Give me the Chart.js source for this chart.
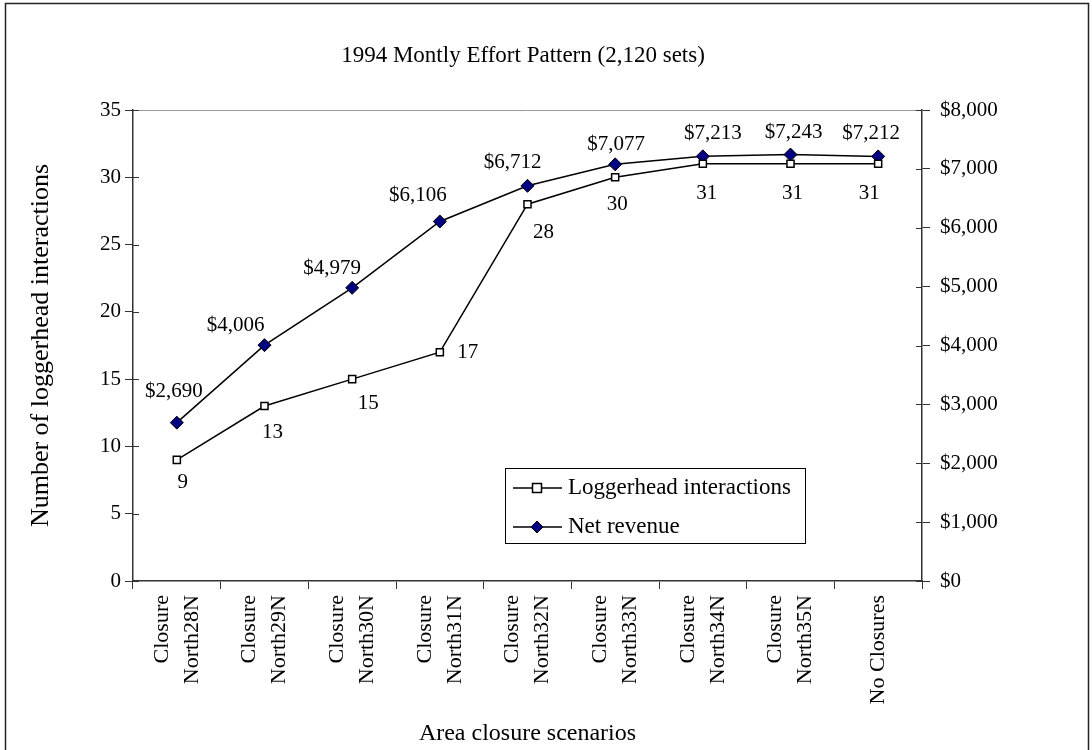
<!DOCTYPE html>
<html>
<head>
<meta charset="utf-8">
<script src="https://cdn.jsdelivr.net/npm/chart.js@4.4.0/dist/chart.umd.min.js"></script>
<style>
  html, body { margin: 0; padding: 0; background: #fff; }
  #wrap { width: 1092px; height: 750px; position: relative; }
</style>
</head>
<body>
<div id="wrap"><canvas id="effortChart"></canvas></div>
<script>
// chart data
const scenarios = [
  ['Closure', 'North28N'], ['Closure', 'North29N'], ['Closure', 'North30N'],
  ['Closure', 'North31N'], ['Closure', 'North32N'], ['Closure', 'North33N'],
  ['Closure', 'North34N'], ['Closure', 'North35N'], ['', 'No Closures']
];
const loggerheadInteractions = [9, 13, 15, 17, 28, 30, 31, 31, 31];
const netRevenue = [2690, 4006, 4979, 6106, 6712, 7077, 7213, 7243, 7212];
const seriesNames = ['Loggerhead interactions', 'Net revenue'];

const FONT = 'Liberation Serif';
const money = v => '$' + Number(v).toLocaleString('en-US');

// where each value label sits relative to its point (px)
const interactionLabelShift = [[6, 23], [8, 26], [16, 24], [28, 0], [16, 28], [2, 27], [4, 30], [2, 30], [-9, 30]];
const revenueLabelShift = [[-3, -31], [-29, -20], [-20, -19], [-22, -26], [-15, -23], [1, -20], [10, -23], [3, -22], [-7, -23]];

const decorations = {
  id: 'decorations',
  afterDraw(chart) {
    const ctx = chart.ctx;
    const area = chart.chartArea;
    ctx.save();

    // outer frame
    ctx.strokeStyle = '#222';
    ctx.lineWidth = 1.5;
    ctx.strokeRect(5.5, 3.5, 1083, 760);

    // light top edge of plot area
    ctx.strokeStyle = '#999';
    ctx.lineWidth = 1;
    ctx.beginPath();
    ctx.moveTo(area.left, area.top + 0.5);
    ctx.lineTo(area.right, area.top + 0.5);
    ctx.stroke();

    // short inner halves of the value-axis ticks
    ctx.strokeStyle = '#333';
    ctx.lineWidth = 1;
    ['y', 'y1'].forEach(id => {
      const sc = chart.scales[id];
      const x0 = id === 'y' ? area.left : area.right;
      const dir = id === 'y' ? 1 : -1;
      sc.ticks.forEach(t => {
        const py = Math.round(sc.getPixelForValue(t.value)) + 0.5;
        ctx.beginPath();
        ctx.moveTo(x0, py);
        ctx.lineTo(x0 + dir * 6, py);
        ctx.stroke();
      });
    });

    // value labels
    ctx.fillStyle = '#000';
    ctx.font = '21px "' + FONT + '"';
    ctx.textAlign = 'center';
    ctx.textBaseline = 'middle';
    chart.getDatasetMeta(0).data.forEach((pt, i) => {
      const s = interactionLabelShift[i];
      ctx.fillText(String(loggerheadInteractions[i]), pt.x + s[0], pt.y + s[1]);
    });
    chart.getDatasetMeta(1).data.forEach((pt, i) => {
      const s = revenueLabelShift[i];
      ctx.fillText(money(netRevenue[i]), pt.x + s[0], pt.y + s[1]);
    });

    // legend box
    const bx = 505, by = 468, bw = 300, bh = 75;
    ctx.fillStyle = '#fff';
    ctx.fillRect(bx, by, bw, bh);
    ctx.strokeStyle = '#000';
    ctx.lineWidth = 1;
    ctx.strokeRect(bx + 0.5, by + 0.5, bw, bh);
    ctx.font = '23px "' + FONT + '"';
    const rows = [by + 20, by + 59];
    rows.forEach((y, i) => {
      ctx.strokeStyle = '#000';
      ctx.lineWidth = 1.5;
      ctx.beginPath();
      ctx.moveTo(bx + 8, y);
      ctx.lineTo(bx + 57, y);
      ctx.stroke();
      const cx = bx + 32;
      if (i === 0) {
        ctx.fillStyle = '#fff';
        ctx.fillRect(cx - 4.5, y - 4.5, 9, 9);
        ctx.strokeRect(cx - 4.5, y - 4.5, 9, 9);
      } else {
        ctx.fillStyle = '#000080';
        ctx.beginPath();
        ctx.moveTo(cx, y - 6);
        ctx.lineTo(cx + 6, y);
        ctx.lineTo(cx, y + 6);
        ctx.lineTo(cx - 6, y);
        ctx.closePath();
        ctx.fill();
        ctx.lineWidth = 1;
        ctx.stroke();
      }
      ctx.fillStyle = '#000';
      ctx.textAlign = 'left';
      ctx.fillText(seriesNames[i], bx + 63, y);
    });
    ctx.restore();
  }
};

new Chart(document.getElementById('effortChart'), {
  type: 'line',
  data: {
    labels: scenarios,
    datasets: [
      {
        label: seriesNames[0],
        data: loggerheadInteractions,
        yAxisID: 'y',
        borderColor: '#000',
        borderWidth: 1.5,
        pointStyle: 'rect',
        pointRadius: 5,
        pointBackgroundColor: '#fff',
        pointBorderColor: '#000',
        pointBorderWidth: 1.5,
        tension: 0
      },
      {
        label: seriesNames[1],
        data: netRevenue,
        yAxisID: 'y1',
        borderColor: '#000',
        borderWidth: 1.5,
        pointStyle: 'rectRot',
        pointRadius: 6.5,
        pointBackgroundColor: '#000080',
        pointBorderColor: '#000',
        pointBorderWidth: 1,
        tension: 0
      }
    ]
  },
  options: {
    responsive: true,
    maintainAspectRatio: false,
    animation: false,
    layout: { padding: { left: 6, right: 52, top: 0, bottom: 0 } },
    plugins: {
      legend: { display: false },
      tooltip: { enabled: false },
      title: {
        display: true,
        text: '1994 Montly Effort Pattern (2,120 sets)',
        color: '#000',
        font: { family: FONT, size: 23, weight: 'normal', lineHeight: 1.2 },
        padding: { top: 42, bottom: 40.4 }
      }
    },
    scales: {
      x: {
        offset: true,
        grid: { offset: true, drawOnChartArea: false, tickLength: 8, color: '#333' },
        border: { color: '#333', width: 1.5 },
        ticks: {
          color: '#000',
          maxRotation: 90, minRotation: 90,
          padding: 6,
          labelOffset: -15,
          // the single-line label gets a tight line height so it sits on its tick
          font: ctx => ({ family: FONT, size: 22, lineHeight: scenarios[ctx.index] && scenarios[ctx.index][0] === '' ? 15 / 22 : 30 / 22 })
        },
        title: {
          display: true,
          text: 'Area closure scenarios',
          color: '#000',
          font: { family: FONT, size: 24 },
          padding: { top: 2, bottom: 2 }
        },
        afterFit(scale) { scale.height = 169; }
      },
      y: {
        position: 'left',
        min: 0, max: 35,
        ticks: { stepSize: 5, color: '#000', padding: 4, font: { family: FONT, size: 21 } },
        grid: { drawOnChartArea: false, tickLength: 8, color: '#333' },
        border: { color: '#333', width: 1.5 },
        title: {
          display: true,
          text: 'Number of loggerhead interactions',
          color: '#000',
          font: { family: FONT, size: 26 },
          padding: { top: 20, bottom: 0 }
        },
        afterFit(scale) { scale.width = 127; }
      },
      y1: {
        position: 'right',
        min: 0, max: 8000,
        ticks: { stepSize: 1000, color: '#000', padding: 10, font: { family: FONT, size: 21 }, callback: v => money(v) },
        grid: { drawOnChartArea: false, tickLength: 8, color: '#333' },
        border: { color: '#333', width: 1.5 },
        afterFit(scale) { scale.width = 118; }
      }
    }
  },
  plugins: [decorations]
});
</script>
</body>
</html>
